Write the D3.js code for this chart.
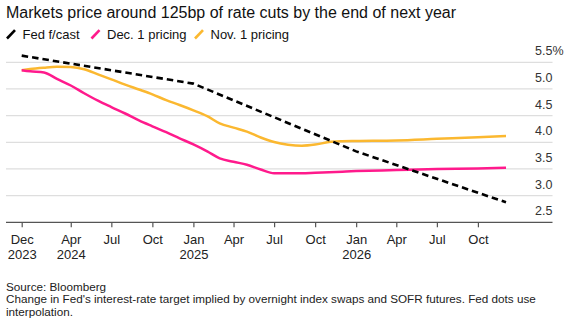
<!DOCTYPE html>
<html>
<head>
<meta charset="utf-8">
<script src="https://cdn.jsdelivr.net/npm/d3@7"></script>
<style>
  html, body { margin: 0; padding: 0; background: #fff; }
  svg { display: block; font-family: "Liberation Sans", Arial, sans-serif; }
</style>
</head>
<body>
<svg id="chart" width="571" height="332"></svg>
<script>
// ---- data ----
const titleText = "Markets price around 125bp of rate cuts by the end of next year";
const seriesNames = ["Fed f/cast", "Dec. 1 pricing", "Nov. 1 pricing"];
const seriesColors = ["#000000", "#ff1a8c", "#fbb830"];

const fedDates = ["2023-12-13", "2025-01-01", "2026-01-01", "2026-12-03"];
const fedValues = [5.625, 5.10, 3.83, 2.875];

const pricingDates = [
  "2023-12-13", "2024-01-01", "2024-02-01", "2024-03-01", "2024-04-01", "2024-05-01",
  "2024-06-01", "2024-07-01", "2024-08-01", "2024-09-01", "2024-10-01", "2024-11-01",
  "2024-12-01", "2025-01-01", "2025-02-01", "2025-03-01", "2025-04-01", "2025-05-01",
  "2025-06-01", "2025-07-01", "2025-08-01", "2025-09-01", "2025-10-01", "2025-11-01",
  "2025-12-01", "2026-01-01", "2026-04-01", "2026-07-01", "2026-10-01", "2026-12-03"
];
const dec1Values = [
  5.35, 5.33, 5.31, 5.19, 5.065, 4.92,
  4.78, 4.66, 4.54, 4.41, 4.30, 4.19,
  4.075, 3.96, 3.83, 3.70, 3.635, 3.58,
  3.49, 3.42, 3.42, 3.42, 3.43, 3.44,
  3.45, 3.46, 3.48, 3.50, 3.51, 3.525
];
const nov1Values = [
  5.35, 5.375, 5.40, 5.415, 5.41, 5.37,
  5.275, 5.18, 5.08, 4.99, 4.90, 4.79,
  4.70, 4.60, 4.49, 4.355, 4.275, 4.20,
  4.09, 4.005, 3.955, 3.935, 3.957, 4.005,
  4.02, 4.025, 4.035, 4.065, 4.095, 4.12
];

const tickDates = ["2023-12-13", "2024-04-01", "2024-07-01", "2024-10-01", "2025-01-01", "2025-04-01",
                   "2025-07-01", "2025-10-01", "2026-01-01", "2026-04-01", "2026-07-01", "2026-10-01"];
const tickMonths = ["Dec", "Apr", "Jul", "Oct", "Jan", "Apr", "Jul", "Oct", "Jan", "Apr", "Jul", "Oct"];
const tickYears = ["2023", "2024", "", "", "2025", "", "", "", "2026", "", "", ""];
const yTicks = [2.5, 3.0, 3.5, 4.0, 4.5, 5.0, 5.5];

const sourceLines = [
  "Source: Bloomberg",
  "Change in Fed's interest-rate target implied by overnight index swaps and SOFR futures. Fed dots use",
  "interpolation."
];

// ---- drawing ----
const parse = d3.utcParse("%Y-%m-%d");
const svg = d3.select("#chart");

const x = d3.scaleUtc()
  .domain([parse("2023-12-13"), parse("2026-12-03")])
  .range([21.7, 506]);
const y = d3.scaleLinear().domain([2.5, 5.5]).range([222.3, 62.3]);

const gridLeft = 6, gridRight = 552.5;

// title
svg.append("text")
  .attr("x", 6).attr("y", 18.3)
  .attr("font-size", 16).attr("fill", "#111")
  .text(titleText);

// legend
const legendX = [7, 91.5, 195];
const legend = svg.append("g");
seriesNames.forEach((name, i) => {
  const lx = legendX[i];
  legend.append("line")
    .attr("x1", lx).attr("y1", 38.5).attr("x2", lx + 8).attr("y2", 30.2)
    .attr("stroke", seriesColors[i]).attr("stroke-width", 2.6).attr("stroke-linecap", "butt");
  legend.append("text")
    .attr("x", lx + 15.5).attr("y", 39)
    .attr("font-size", 13).attr("fill", "#111")
    .text(name);
});

// gridlines
svg.append("g").selectAll("line")
  .data(yTicks.filter(v => v !== 2.5))
  .join("line")
  .attr("x1", gridLeft).attr("x2", gridRight)
  .attr("y1", d => y(d)).attr("y2", d => y(d))
  .attr("stroke", "#dedede").attr("stroke-width", 1.3);

// y labels
svg.append("g").selectAll("text")
  .data(yTicks)
  .join("text")
  .attr("x", 535).attr("y", d => y(d) - 7)
  .attr("font-size", 12.5).attr("fill", "#333")
  .text(d => d === 5.5 ? d3.format(".1f")(d) + "%" : d3.format(".1f")(d));

// x axis
const xAxis = d3.axisBottom(x)
  .tickValues(tickDates.map(parse))
  .tickSize(5)
  .tickPadding(7)
  .tickFormat(() => "");
const gx = svg.append("g").attr("transform", `translate(0,${y(2.5)})`).call(xAxis);
gx.select(".domain").remove();
gx.insert("line", ":first-child")
  .attr("x1", gridLeft).attr("x2", gridRight).attr("y1", 0).attr("y2", 0)
  .attr("stroke", "#555").attr("stroke-width", 1.3);
gx.selectAll(".tick line").attr("stroke", "#555").attr("stroke-width", 1.2);
gx.selectAll(".tick text").remove();
gx.selectAll(".tick").each(function (d, i) {
  const t = d3.select(this).append("text")
    .attr("text-anchor", "middle")
    .attr("font-size", 13).attr("fill", "#222")
    .attr("font-family", "'Liberation Sans', Arial, sans-serif");
  t.append("tspan").attr("x", 0).attr("y", 21.3).text(tickMonths[i]);
  if (tickYears[i]) t.append("tspan").attr("x", 0).attr("y", 37).text(tickYears[i]);
});

// lines
const line = d3.line()
  .x(d => x(d.date)).y(d => y(d.value))
  .curve(d3.curveMonotoneX);

const nov = pricingDates.map((d, i) => ({ date: parse(d), value: nov1Values[i] }));
const dec = pricingDates.map((d, i) => ({ date: parse(d), value: dec1Values[i] }));
const fed = fedDates.map((d, i) => ({ date: parse(d), value: fedValues[i] }));

svg.append("path").datum(nov)
  .attr("d", line).attr("fill", "none")
  .attr("stroke", seriesColors[2]).attr("stroke-width", 2.5);
svg.append("path").datum(dec)
  .attr("d", line).attr("fill", "none")
  .attr("stroke", seriesColors[1]).attr("stroke-width", 2.5);
svg.append("path").datum(fed)
  .attr("d", d3.line().x(d => x(d.date)).y(d => y(d.value))).attr("fill", "none")
  .attr("stroke", seriesColors[0]).attr("stroke-width", 2.6)
  .attr("stroke-dasharray", "6.5,4");

// footer
svg.append("g").selectAll("text")
  .data(sourceLines)
  .join("text")
  .attr("x", 6).attr("y", (d, i) => 290.7 + i * 12.5)
  .attr("font-size", 11.7).attr("fill", "#222")
  .text(d => d);
</script>
</body>
</html>
